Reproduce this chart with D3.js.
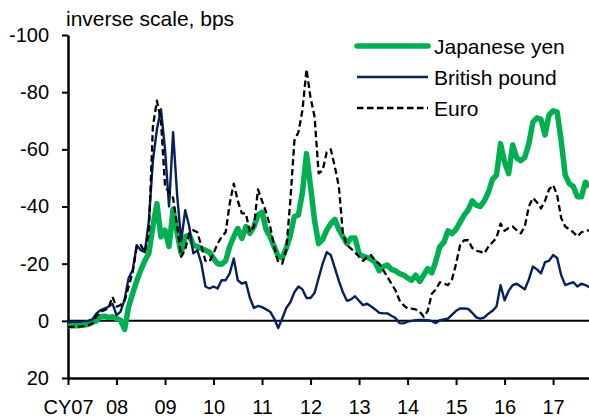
<!DOCTYPE html>
<html>
<head>
<meta charset="utf-8">
<script src="https://cdn.jsdelivr.net/npm/d3@7"></script>
<style>
  body { margin: 0; background: #fff; }
  text { font-family: "Liberation Sans", Arial, sans-serif; fill: #000; }
</style>
</head>
<body>
<div id="chart"></div>
<script>
const width = 589;
const height = 418;

// monthly points, Jan 2007 onwards (bps, inverse scale)
const startYear = 2007;
const yen = [
  1.8, 1.7, 1.7, 1.6, 1.5, 1.2, 0.5, 0,
  -1.4, -1.6, -1.2, -1.4, -0.8, -0.2, 3, -5,
  -9.6, -14, -17.7, -21, -23.6, -33, -41, -29.4,
  -31.7, -26, -39, -30.6, -23.6, -29.4, -30, -26.5,
  -26, -25.3, -24.7, -24, -21.8, -20, -19.8, -21,
  -26, -29.4, -32.3, -28.8,
  -33, -30.6, -33, -37, -38, -32, -29.4, -26,
  -22.5, -22, -25.5, -30, -36.5, -37, -45, -58.5,
  -47, -35, -27, -28.5, -31.7, -34, -35.5, -32,
  -29.5, -27, -29, -29, -23.5, -22.5, -22.2, -21.5,
  -20.5, -17.5, -19, -19.5, -18, -17.5, -16.5, -16, -15, -14.2,
  -16, -13.8, -16, -18.3, -16.8, -21, -26, -27.5, -31.5, -30.5,
  -32, -34.5, -37, -38.8, -42, -40.5, -40, -42, -45, -49.5,
  -51, -62, -55.5, -51.5, -61.5, -57, -56, -57.2, -62, -69.5,
  -71, -70.5, -65, -72, -73.5, -73, -63, -51, -48, -47,
  -43.4, -43.4, -48.5, -47
];
const pound = [
  0.5, 0.3, 0.3, 0.3, 0.2, 0, -0.5, -2.5,
  -3.7, -4.3, -4.9, -6, -2, -3.2, -7.5, -15,
  -17.7, -26.5, -24.7, -24, -35, -56, -67, -74,
  -60, -40, -66, -44, -28, -38.7, -33, -23.6,
  -24.7, -20, -12, -11.3, -12, -11.3, -14.2, -14.2,
  -16.6, -21.8, -14.2, -13,
  -13.5, -8, -4.5, -5.2, -4.8, -4, -3.2, -0.8,
  2.5, -0.8, -4.5, -6.5, -10, -12, -11, -8,
  -8, -9.8, -15, -20, -24, -23, -18.5, -14,
  -10, -7, -7.5, -8.6, -7, -5.5, -6, -5,
  -4, -2.8, -2.6, -2.6, -1.8, -1, 0.8, 0.9, 0.3, 0,
  -0.2, -0.3, -0.3, -0.2, 0.1, 0.8, -0.2, -0.5, -0.8, -2.2,
  -3.5, -4.3, -4.3, -4.2, -2.8, -1.2, -0.8, -1.2, -2.5, -3.5,
  -5, -12.5, -7.2, -10.5, -12.5, -13, -12, -11, -14.5, -19,
  -18, -16.6, -20.5, -21, -23, -22, -16, -12.5, -13, -13.5,
  -12, -13, -12.5, -11.8
];
const euro = [
  2.1, 2.1, 2.0, 2.0, 1.8, 1.5, 1.0, -1.5,
  -3.2, -3.7, -4.5, -8.4, -5, -5.5, -7, -12,
  -17, -26, -26.5, -24, -30.6, -68, -77, -70,
  -47, -45, -43, -33, -22.4, -25, -30.6, -31.7,
  -31, -26, -21, -20.7, -23.6, -27, -29.4, -31,
  -41, -48, -42, -37.6,
  -37.6, -31, -33, -46, -42, -38, -33, -26,
  -20.5, -20, -25, -42, -63, -66, -73.7, -88,
  -78, -71.4, -51.6, -52.7, -59, -60, -54, -47,
  -30.6, -26.5, -25.3, -24, -22.4, -21, -22.4, -23,
  -21, -20, -17.7, -15.4, -13, -10.7, -7.2, -5.5, -4.3, -4.3,
  -4, -3.2, -1.4, -3.5, -9.5, -11, -13.5, -13, -12.5, -14.5,
  -20, -26.5, -28.2, -28.2, -25.5, -24.5, -24.2, -23.6, -26, -27.5,
  -29, -34, -31.5, -32.5, -33, -31.7, -30.6, -33, -40, -43,
  -41.5, -39.3, -42, -46, -47.5, -44, -36, -33, -32, -31,
  -29.5, -31, -31.5, -31.7
];

const yTicks = [-100, -80, -60, -40, -20, 0, 20];
const xTicks = [2007, 2008, 2009, 2010, 2011, 2012, 2013, 2014, 2015, 2016, 2017];
const xLabels = ['CY07', '08', '09', '10', '11', '12', '13', '14', '15', '16', '17'];

const seriesNames = ['Japanese yen', 'British pound', 'Euro'];
const seriesData = [yen, pound, euro];
const seriesColor = ['#00b050', '#07215e', '#000'];
const seriesWidth = [5.5, 2.4, 2.3];
const seriesDash = [null, null, '6.5,3.5'];

// 画布
let svg = d3.select('#chart').append('svg')
  .attr('width', width)
  .attr('height', height);

// scales
let x = d3.scaleLinear().domain([2007, 2017.74]).range([68, 589]);
let y = d3.scaleLinear().domain([-100, 20]).range([35, 378]);

// y axis
let yAxis = svg.append('g')
  .attr('transform', 'translate(68,0)')
  .call(d3.axisLeft(y).tickValues(yTicks).tickSize(6).tickSizeOuter(0).tickFormat(d => d));
yAxis.select('.domain').attr('stroke', '#000').attr('stroke-width', 2.5);
yAxis.selectAll('.tick line').attr('stroke', '#000').attr('stroke-width', 2);
yAxis.selectAll('.tick text')
  .attr('x', -19)
  .style('font-size', '20px')
  .style('font-family', '"Liberation Sans", Arial, sans-serif')
  .attr('fill', '#000');

// x axis
let xAxis = svg.append('g')
  .attr('transform', 'translate(0,378)')
  .call(d3.axisBottom(x).tickValues(xTicks).tickSize(7).tickSizeOuter(0)
    .tickFormat((d, i) => xLabels[i]));
xAxis.select('.domain').attr('stroke', '#000').attr('stroke-width', 2.5);
xAxis.selectAll('.tick line').attr('stroke', '#000').attr('stroke-width', 2);
xAxis.selectAll('.tick text')
  .attr('y', 22)
  .style('font-size', '20px')
  .style('font-family', '"Liberation Sans", Arial, sans-serif')
  .attr('fill', '#000');

// zero line
svg.append('line')
  .attr('x1', x(2007)).attr('x2', 589)
  .attr('y1', y(0)).attr('y2', y(0))
  .attr('stroke', '#000')
  .attr('stroke-width', 2);

// title
svg.append('text')
  .text('inverse scale, bps')
  .attr('x', 66)
  .attr('y', 26)
  .style('font-size', '21px');

// lines
let line = d3.line()
  .x((d, i) => x(startYear + i / 12))
  .y(d => y(d));

svg.append('clipPath').attr('id', 'plot')
  .append('rect').attr('x', 68).attr('y', 0).attr('width', 521).attr('height', 378);

seriesData.forEach((s, k) => {
  svg.append('path')
    .datum(s)
    .attr('clip-path', 'url(#plot)')
    .attr('d', line)
    .attr('fill', 'none')
    .attr('stroke', seriesColor[k])
    .attr('stroke-width', seriesWidth[k])
    .attr('stroke-dasharray', seriesDash[k])
    .attr('stroke-linejoin', 'round');
});

// legend
let legend = svg.append('g').attr('transform', 'translate(357,46)');
seriesNames.forEach((name, k) => {
  let g = legend.append('g').attr('transform', 'translate(0,' + (k * 31) + ')');
  g.append('line')
    .attr('x1', 0).attr('x2', 71)
    .attr('y1', 0).attr('y2', 0)
    .attr('stroke', seriesColor[k])
    .attr('stroke-width', seriesWidth[k])
    .attr('stroke-dasharray', seriesDash[k])
    .attr('stroke-linecap', k === 0 ? 'round' : 'butt');
  g.append('text')
    .text(name)
    .attr('x', 77)
    .attr('y', 7.5)
    .style('font-size', '21px');
});
</script>
</body>
</html>
